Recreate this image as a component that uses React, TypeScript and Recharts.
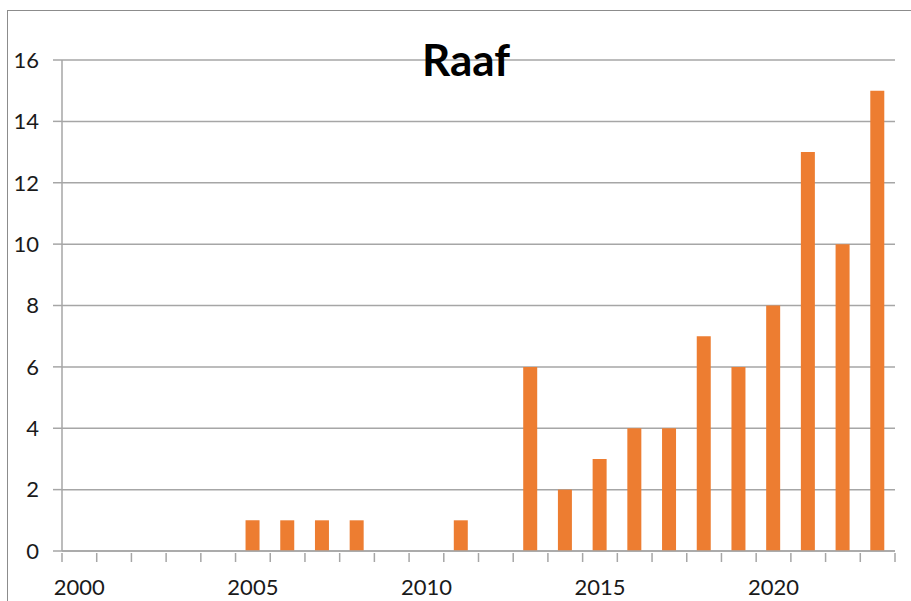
import React from 'react';
import { BarChart, Bar, XAxis, YAxis, CartesianGrid } from 'recharts';

const years = [
  '2000', '2001', '2002', '2003', '2004', '2005', '2006', '2007', '2008', '2009', '2010', '2011',
  '2012', '2013', '2014', '2015', '2016', '2017', '2018', '2019', '2020', '2021', '2022', '2023'
];
const counts = [0, 0, 0, 0, 0, 1, 1, 1, 1, 0, 0, 1, 0, 6, 2, 3, 4, 4, 7, 6, 8, 13, 10, 15];
const yTicks = [0, 2, 4, 6, 8, 10, 12, 14, 16];

const data = years.map((year, i) => ({ year, count: counts[i] }));

const GRID = '#a6a6a6';
const FONT = 'Lato, Carlito, Calibri, sans-serif';

const WIDTH = 911;
const HEIGHT = 601;
const MARGIN = { top: 60, right: 16, left: 8, bottom: 0 };
const Y_AXIS_W = 54;
const PLOT_W = WIDTH - MARGIN.left - MARGIN.right - Y_AXIS_W;
const HALF_BAND = PLOT_W / years.length / 2;

// Excel-style category ticks: marks sit between categories, labels every 5 years
const YearTick = ({ x, y, payload, index }: any) => {
  const isLast = index === years.length - 1;
  return (
    <g>
      <line x1={x - HALF_BAND} x2={x - HALF_BAND} y1={y} y2={y + 9} stroke={GRID} strokeWidth={1.5} />
      {isLast && <line x1={x + HALF_BAND} x2={x + HALF_BAND} y1={y} y2={y + 9} stroke={GRID} strokeWidth={1.5} />}
      {index % 5 === 0 && (
        <text x={x} y={y + 42} textAnchor="middle" fill="#1a1a1a" fontSize={22} fontFamily={FONT}>
          {payload.value}
        </text>
      )}
    </g>
  );
};

const App = () => {
  return (
    <div style={{ position: 'absolute', left: 0, top: 0, width: WIDTH, height: HEIGHT, overflow: 'hidden', background: '#fff' }}>
      {/* chart frame, runs off the right and bottom edges */}
      <div style={{ position: 'absolute', left: 7, top: 10, width: 940, height: 640, border: '1.5px solid #8c8c8c' }} />
      <BarChart
        width={WIDTH}
        height={HEIGHT}
        data={data}
        margin={MARGIN}
        style={{ position: 'absolute', left: 0, top: 0 }}
      >
        <CartesianGrid vertical={false} stroke={GRID} strokeWidth={1.5} />
        <XAxis
          dataKey="year"
          interval={0}
          height={50}
          axisLine={{ stroke: GRID, strokeWidth: 1.5 }}
          tickLine={false}
          tickSize={0}
          tick={<YearTick />}
        />
        <YAxis
          domain={[0, 16]}
          ticks={yTicks}
          width={Y_AXIS_W}
          tickSize={9}
          tickMargin={14}
          axisLine={{ stroke: GRID, strokeWidth: 1.5 }}
          tickLine={{ stroke: GRID, strokeWidth: 1.5 }}
          tick={{ fill: '#1a1a1a', fontSize: 22, fontFamily: FONT }}
        />
        <Bar dataKey="count" fill="#ed7d31" barSize={14} isAnimationActive={false} />
        <text x={466} y={76} textAnchor="middle" fontFamily={FONT} fontWeight={700} fontSize={44} fill="#000">
          Raaf
        </text>
      </BarChart>
    </div>
  );
};

export default App;
